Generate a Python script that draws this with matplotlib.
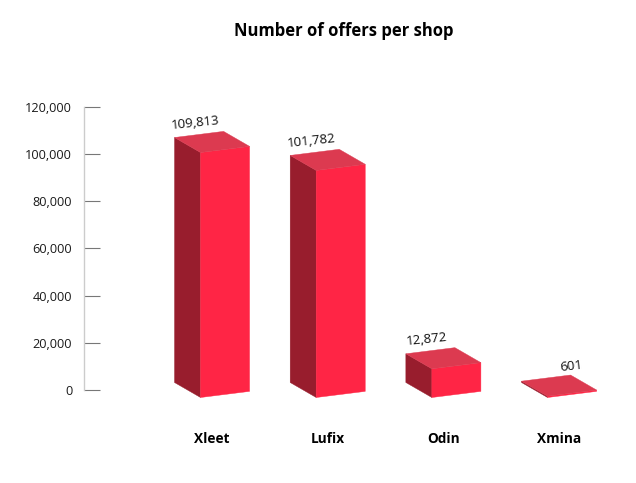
import matplotlib
matplotlib.use("Agg")
import matplotlib.pyplot as plt
from matplotlib.patches import Polygon
from matplotlib.transforms import IdentityTransform
import numpy as np

categories = ["Xleet", "Lufix", "Odin", "Xmina"]
values = [109813, 101782, 12872, 601]
yticks = [0, 20000, 40000, 60000, 80000, 100000, 120000]
title = "Number of offers per shop"

plt.rcParams['font.family'] = ['Open Sans', 'DejaVu Sans']

W, H = 636, 483
fig = plt.figure(figsize=(W / 100, H / 100), dpi=100)
fig.patch.set_facecolor("white")

# axes: left spine at px 84, right 620, 0 at y=390, 120000 at y=107 (image coords)
ax = fig.add_axes([84 / W, (H - 390) / H, (620 - 84) / W, 283 / H])
ax.set_ylim(0, 120000)
ax.set_xlim(-1.107, 3.527)
ax.set_facecolor("none")
for s in ["top", "right", "bottom"]:
    ax.spines[s].set_visible(False)
ax.spines["left"].set_color("#cccccc")
ax.spines["left"].set_linewidth(1)
ax.set_yticks(yticks)
ax.set_yticklabels([f"{t:,}" for t in yticks], fontsize=9.2, color="#1a1a1a")
ax.tick_params(axis="y", direction="in", length=11.5, width=0.8, color="#777777", pad=8.5)
ax.set_xticks(range(len(categories)))
ax.set_xticklabels(categories, fontsize=9.8, fontweight="bold", color="#000000")
ax.tick_params(axis="x", length=0, pad=30)

fig.text(344 / W, 1 - 31 / H, title, ha="center", va="center",
         fontsize=12, fontweight="bold", color="#000000")

fig.canvas.draw()

bar_w = 0.424       # in category units
hscale = 0.946      # 3D shrink of bar heights
tilt = 0.125        # rise of horizontal edges per px (display)
depth = np.array([13.0, -7.5])  # half-depth offset (display px, mpl coords)

front_col = "#ff2545"
side_col = "#981d2d"
top_col = "#dc3a50"

label_nudge = [0, 0, 0, 29]

T = ax.transData
for i, (cat, v) in enumerate(zip(categories, values)):
    corners = np.array([
        [i - bar_w / 2, 0],
        [i + bar_w / 2, 0],
        [i + bar_w / 2, v * hscale],
        [i - bar_w / 2, v * hscale],
    ])
    d = T.transform(corners)
    xl = d[0, 0]
    d[:, 1] += tilt * (d[:, 0] - xl)
    fr = d + depth
    bk = d - depth
    # fr/bk: 0 bottom-left, 1 bottom-right, 2 top-right, 3 top-left
    side = [bk[0], fr[0], fr[3], bk[3]]
    top = [bk[3], bk[2], fr[2], fr[3]]
    front = [fr[0], fr[1], fr[2], fr[3]]
    for pts, col in [(side, side_col), (front, front_col), (top, top_col)]:
        p = Polygon(pts, closed=True, facecolor=col, edgecolor=col, linewidth=0.3,
                    transform=IdentityTransform(), clip_on=False)
        fig.add_artist(p)
    lx = d[3, 0] + 8 + label_nudge[i]
    ly = d[3, 1] + 22
    fig.text(lx / W, ly / H, f"{v:,}", ha="center", va="center", rotation=6,
             fontsize=9.5, color="#111111")

fig.savefig("out.png", dpi=100, facecolor="white")
